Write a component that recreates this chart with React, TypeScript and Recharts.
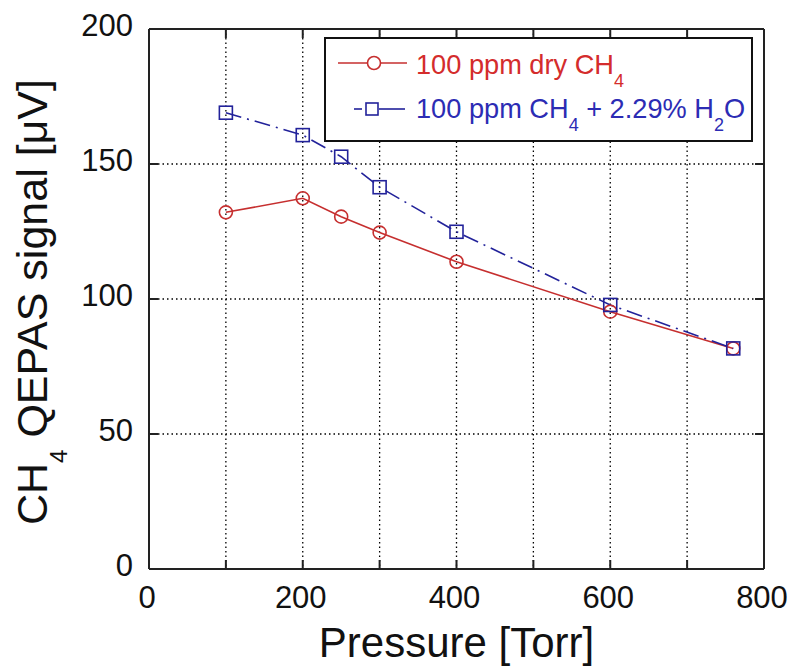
import React from 'react';
import { LineChart, Line, XAxis, YAxis, CartesianGrid, ReferenceLine, Legend, Label } from 'recharts';

// ---- data ----
const pressure = [100, 200, 250, 300, 400, 600, 760];
const dryCH4 = [132.1, 137.3, 130.5, 124.6, 113.8, 95.3, 81.7];
const wetCH4 = [169.0, 160.7, 152.7, 141.4, 124.9, 97.8, 81.7];
const xTicks = [0, 100, 200, 300, 400, 500, 600, 700, 800];
const xTickLabels = [0, 200, 400, 600, 800];
const yTicks = [0, 50, 100, 150, 200];
const xTitle = 'Pressure [Torr]';

const data = pressure.map((p, i) => ({ p, dry: dryCH4[i], wet: wetCH4[i] }));

// ---- layout / style ----
const W = 788;
const H = 661;
const PLOT_W = 615;
const PLOT_H = 540;
const TICK = 9;
const FONT = "Arial, 'Liberation Sans', Helvetica, sans-serif";
const FRAME = '#222';
const RED = '#c62f2f';
const RED_TEXT = '#d42c2c';
const BLUE = '#22229a';
const BLUE_TEXT = '#2c2cb4';
const BLUE_DASH = '16 6 2 6';
const LEG_FS = 27.2;

const YTick = (props: any) => {
  const { x, y, payload } = props;
  return (
    <g>
      <line x1={x} x2={x + TICK} y1={y} y2={y} stroke={FRAME} strokeWidth={2} />
      <line x1={x + PLOT_W - TICK} x2={x + PLOT_W} y1={y} y2={y} stroke={FRAME} strokeWidth={2} />
      <text x={x - 16} y={y + 7} textAnchor="end" fontSize={31} fontFamily={FONT} fill="#111">
        {payload.value}
      </text>
    </g>
  );
};

const XTick = (props: any) => {
  const { x, y, payload } = props;
  const labeled = xTickLabels.includes(payload.value);
  return (
    <g>
      <line x1={x} x2={x} y1={y - TICK} y2={y} stroke={FRAME} strokeWidth={2} />
      <line x1={x} x2={x} y1={y - PLOT_H} y2={y - PLOT_H + TICK} stroke={FRAME} strokeWidth={2} />
      {labeled && (
        <text x={x - 2} y={y + 39} textAnchor="middle" fontSize={31} fontFamily={FONT} fill="#111">
          {payload.value}
        </text>
      )}
    </g>
  );
};

const CircleDot = (props: any) => {
  const { cx, cy, index } = props;
  return <circle key={`c${index}`} cx={cx} cy={cy} r={6.5} fill="none" stroke={RED} strokeWidth={1.6} />;
};

const SquareDot = (props: any) => {
  const { cx, cy, index } = props;
  return (
    <rect key={`s${index}`} x={cx - 6.5} y={cy - 6.5} width={13} height={13} fill="none" stroke={BLUE} strokeWidth={1.6} />
  );
};

const LegendBox = () => (
  <svg width={430} height={106} style={{ display: 'block' }}>
    <rect x={1} y={1} width={427} height={103} fill="#fff" stroke="#111" strokeWidth={2} />
    <line x1={14} x2={83} y1={26} y2={26} stroke={RED} strokeWidth={1.6} />
    <circle cx={50} cy={26} r={6.5} fill="#fff" stroke={RED} strokeWidth={1.6} />
    <text x={92} y={37} fill={RED_TEXT} fontSize={LEG_FS} fontFamily={FONT}>
      100 ppm dry CH<tspan fontSize={18} dy={13}>4</tspan>
    </text>
    <line x1={30} x2={38} y1={72} y2={72} stroke={BLUE} strokeWidth={1.6} />
    <line x1={55} x2={81} y1={72} y2={72} stroke={BLUE} strokeWidth={1.6} />
    <rect x={42} y={66} width={12} height={12} fill="#fff" stroke={BLUE} strokeWidth={1.6} />
    <text x={92} y={81} fill={BLUE_TEXT} fontSize={LEG_FS} fontFamily={FONT}>
      100 ppm CH<tspan fontSize={18} dy={13}>4</tspan>
      <tspan dy={-13}> + 2.29% H</tspan>
      <tspan fontSize={18} dy={13}>2</tspan>
      <tspan dy={-13}>O</tspan>
    </text>
  </svg>
);

const YTitle = (props: any) => {
  const vb = props.viewBox || { x: 0, y: 21, width: 141, height: PLOT_H };
  const cx = 39;
  const cy = vb.y + vb.height / 2 + 3;
  return (
    <text
      x={cx}
      y={cy}
      transform={`rotate(-90 ${cx} ${cy})`}
      textAnchor="middle"
      fontSize={43}
      fontFamily={FONT}
      fill="#111"
    >
      CH<tspan fontSize={24} dy={20}>4</tspan>
      <tspan dy={-20}> QEPAS signal [μV]</tspan>
    </text>
  );
};

const XTitle = (props: any) => {
  const vb = props.viewBox || { x: 141, y: 561, width: PLOT_W, height: 100 };
  return (
    <text x={vb.x + vb.width / 2} y={vb.y + 88} textAnchor="middle" fontSize={42} fontFamily={FONT} fill="#111">
      {xTitle}
    </text>
  );
};

export default function App() {
  return (
    <div style={{ width: W, height: H, background: '#fff', fontFamily: FONT }}>
      <LineChart width={W} height={H} data={data} margin={{ top: 21, right: 32, left: 0, bottom: 0 }}>
        <CartesianGrid stroke="#000" strokeDasharray="1.5 3" strokeWidth={1.3} />
        <XAxis
          dataKey="p"
          type="number"
          domain={[0, 800]}
          ticks={xTicks}
          interval={0}
          height={100}
          tickSize={0}
          tickMargin={0}
          tickLine={false}
          tick={<XTick />}
          axisLine={{ stroke: FRAME, strokeWidth: 2 }}
        >
          <Label content={<XTitle />} />
        </XAxis>
        <YAxis
          type="number"
          domain={[0, 200]}
          ticks={yTicks}
          interval={0}
          width={141}
          tickSize={0}
          tickMargin={0}
          tickLine={false}
          tick={<YTick />}
          axisLine={{ stroke: FRAME, strokeWidth: 2 }}
        >
          <Label content={<YTitle />} />
        </YAxis>
        <ReferenceLine y={200} stroke={FRAME} strokeWidth={2} />
        <ReferenceLine x={800} stroke={FRAME} strokeWidth={2} />
        <Legend
          layout="vertical"
          align="center"
          verticalAlign="middle"
          content={() => <LegendBox />}
          wrapperStyle={{ left: 316, top: 29, width: 430, height: 106 }}
        />
        <Line
          dataKey="dry"
          stroke={RED}
          strokeWidth={1.6}
          dot={(p: any) => <CircleDot {...p} />}
          activeDot={false}
          isAnimationActive={false}
        />
        <Line
          dataKey="wet"
          stroke={BLUE}
          strokeWidth={1.6}
          strokeDasharray={BLUE_DASH}
          dot={(p: any) => <SquareDot {...p} />}
          activeDot={false}
          isAnimationActive={false}
        />
      </LineChart>
    </div>
  );
}
